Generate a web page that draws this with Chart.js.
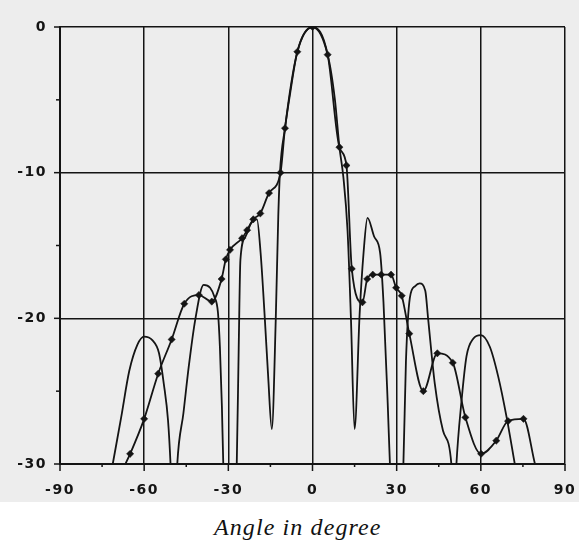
<!DOCTYPE html>
<html>
<head>
<meta charset="utf-8">
<script src="https://cdn.jsdelivr.net/npm/chart.js@4/dist/chart.umd.min.js"></script>
<style>
  html, body { margin: 0; padding: 0; background: #ffffff; }
  #wrap { position: relative; width: 579px; height: 544px; overflow: hidden; background: #ffffff; }
  #plot { position: absolute; left: 0; top: 0; width: 579px; height: 502px; background: #ededed; }
  #xtitle { position: absolute; left: 214px; top: 514px; white-space: nowrap;
            font-family: "Liberation Serif", "Times New Roman", serif; font-style: italic;
            font-size: 24px; line-height: 26px; letter-spacing: 1.1px; color: #111; }
</style>
</head>
<body>
<div id="wrap">
  <div id="plot"><canvas id="c" width="579" height="502"></canvas></div>
  <div id="xtitle">Angle in degree</div>
</div>
<script>
// ---- Tick labels ----
const xTicks = [-90, -60, -30, 0, 30, 60, 90];
const yTicks = [0, -10, -20, -30];

// ---- Curve without markers (theoretical pattern), dB vs angle ----
const patternAngles = [
  -71.2, -68.2, -65.3, -62.4, -60.0, -57.1, -54.7, -53.0, -51.5, -50.6,
  -49.4, -48.2, -46.0, -44.1, -41.8, -38.8, -36.5, -35.0, -33.7, -33.0, -32.3, -31.8,
  -29.5, -27.0, -26.3, -25.7, -23.9, -22.0, -19.8, -18.5, -17.0, -15.8, -14.5,
  -13.1, -12.2, -11.6, -9.8, -8.0, -5.4, 0.0,
  5.4, 8.0, 9.6, 11.0, 12.5, 13.7, 15.0,
  16.8, 18.2, 19.6, 22.0, 24.1, 25.3, 26.8, 27.6,
  30.0, 32.4, 33.3, 34.7, 36.5, 38.2, 40.2, 41.2, 43.6, 46.5, 49.5,
  50.4, 51.3, 53.1, 54.9, 57.3, 60.0, 63.2, 66.2, 69.2, 72.1
];
const patternValues = [
  -30.0, -26.8, -23.6, -21.8, -21.25, -21.5, -22.4, -24.5, -27.0, -30.0,
  -36.0, -30.0, -26.5, -23.3, -20.1, -17.7, -17.9, -18.5, -19.6, -22.0, -26.0, -30.0,
  -38.0, -30.0, -22.0, -16.0, -14.4, -13.5, -13.2, -15.5, -20.0, -24.0, -27.6,
  -20.1, -13.0, -10.0, -6.95, -4.6, -1.7, 0.0,
  -1.9, -5.0, -8.25, -10.3, -14.0, -20.0, -27.6,
  -19.7, -15.5, -13.1, -14.4, -15.5, -18.9, -25.8, -30.0,
  -38.0, -30.0, -23.0, -18.6, -17.8, -17.6, -18.1, -20.0, -24.5, -27.7, -30.0,
  -34.0, -30.0, -25.7, -22.6, -21.4, -21.15, -21.95, -24.0, -26.8, -30.0
];

// ---- Curve with diamond markers (measured pattern), dB vs angle ----
const measuredAngles = [
  -66.7, -65.0, -60.0, -55.0, -50.2, -45.7, -40.5, -35.9, -32.4, -30.9, -29.4,
  -25.1, -23.3, -21.1, -18.6, -15.5, -11.4, -9.8, -5.4, 0.0,
  5.4, 9.6, 12.1, 14.0, 17.8, 19.5, 21.5, 24.5, 28.0, 29.8, 31.8,
  34.5, 39.5, 44.5, 50.0, 54.5, 60.1, 65.5, 69.7, 75.2, 79.3
];
const measuredValues = [
  -30.0, -29.3, -26.9, -23.8, -21.45, -19.0, -18.4, -18.85, -17.3, -15.95, -15.3,
  -14.5, -13.95, -13.2, -12.8, -11.4, -10.0, -6.95, -1.7, 0.0,
  -1.9, -8.25, -9.5, -16.6, -18.9, -17.3, -17.0, -17.0, -17.0, -17.9, -18.45,
  -21.05, -25.0, -22.4, -23.05, -26.8, -29.3, -28.4, -27.05, -26.9, -30.0
];

const toPoints = (xs, ys) => xs.map((x, i) => ({ x: x, y: ys[i] }));

const INK = '#141414';

const tickMarks = {
  id: 'tickMarks',
  afterDraw(chart) {
    const { ctx, chartArea: a, scales: { x, y } } = chart;
    ctx.save();
    ctx.strokeStyle = INK;
    ctx.lineWidth = 1.5;
    x.ticks.forEach(t => {
      const px = x.getPixelForValue(t.value);
      const len = xTicks.includes(t.value) ? 7 : 3;
      ctx.beginPath(); ctx.moveTo(px, a.bottom); ctx.lineTo(px, a.bottom + len); ctx.stroke();
    });
    y.ticks.forEach(t => {
      const py = y.getPixelForValue(t.value);
      const len = yTicks.includes(t.value) ? 6 : 4;
      ctx.beginPath(); ctx.moveTo(a.left, py); ctx.lineTo(a.left - len, py); ctx.stroke();
    });
    ctx.restore();
  }
};

const spacing = {
  id: 'spacing',
  beforeDraw(chart) { chart.ctx.letterSpacing = '1.5px'; },
  afterDraw(chart) { chart.ctx.letterSpacing = '0px'; }
};

const tickFont = { family: 'DejaVu Sans', weight: 'bold', size: 14 };

new Chart(document.getElementById('c'), {
  type: 'scatter',
  data: {
    datasets: [
      {
        label: 'pattern',
        data: toPoints(patternAngles, patternValues),
        showLine: true,
        borderColor: INK,
        borderWidth: 1.8,
        pointRadius: 0,
        cubicInterpolationMode: 'monotone'
      },
      {
        label: 'measured',
        data: toPoints(measuredAngles, measuredValues),
        showLine: true,
        borderColor: INK,
        borderWidth: 1.8,
        pointStyle: 'rectRot',
        pointRadius: c => (c.raw && c.raw.y > -30) ? 3.6 : 0,
        pointBackgroundColor: INK,
        pointBorderColor: INK,
        pointBorderWidth: 0.5,
        cubicInterpolationMode: 'monotone'
      }
    ]
  },
  options: {
    responsive: false,
    animation: false,
    events: [],
    layout: { padding: { left: 0, right: 14, top: 27, bottom: 0 } },
    plugins: { legend: { display: false }, tooltip: { enabled: false }, title: { display: false } },
    scales: {
      x: {
        type: 'linear', min: -90, max: 90,
        afterFit(s) { s.height = 38; s.paddingLeft = 0; s.paddingRight = 0; },
        ticks: {
          stepSize: 15, autoSkip: false, maxRotation: 0, padding: 18,
          color: INK, font: tickFont,
          callback: v => xTicks.includes(v) ? String(v) : ''
        },
        grid: {
          drawTicks: false, lineWidth: 1.5,
          color: c => (c.tick && xTicks.includes(c.tick.value)) ? INK : 'rgba(0,0,0,0)'
        },
        border: { color: INK, width: 2 }
      },
      y: {
        type: 'linear', min: -30, max: 0,
        afterFit(s) { s.width = 60; s.paddingTop = 0; s.paddingBottom = 0; },
        ticks: {
          stepSize: 5, autoSkip: false, padding: 13,
          color: INK, font: tickFont,
          callback: v => yTicks.includes(v) ? String(v) : ''
        },
        grid: {
          drawTicks: false, lineWidth: 1.5,
          color: c => (c.tick && yTicks.includes(c.tick.value)) ? INK : 'rgba(0,0,0,0)'
        },
        border: { color: INK, width: 2 }
      }
    }
  },
  plugins: [tickMarks, spacing]
});
</script>
</body>
</html>
